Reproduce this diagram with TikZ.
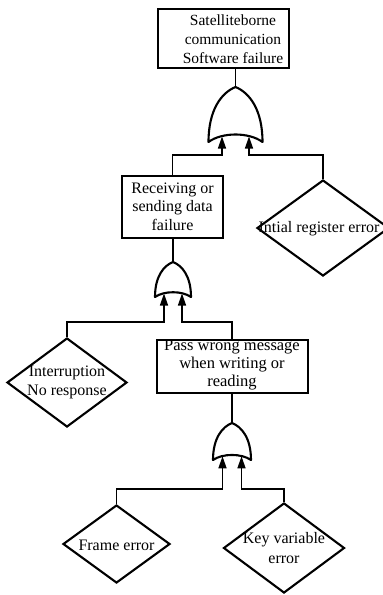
\documentclass[tikz,border=0pt]{standalone}
\usepackage{fontspec}
\setmainfont{Liberation Serif}
\usetikzlibrary{shapes.geometric,arrows.meta,calc}

\tikzset{
  evbox/.style={draw, line width=2.1pt, rectangle, inner sep=0pt},
  basic/.style={draw, line width=2.1pt, diamond, inner sep=0pt},
  caption/.style={align=center, inner sep=0pt, font=\rmfamily\fontsize{16}{19}\selectfont},
  conn/.style={line width=1.4pt},
  feed/.style={conn, -{Triangle[length=12pt,width=8pt]}},
  gateline/.style={line width=2.1pt, line join=round},
}

% OR gate pointing up: name, centre x, apex y, half width, height, input bus y
\newcommand\OrGate[6]{%
  \pgfmathsetmacro\gL{#2-#4}\pgfmathsetmacro\gR{#2+#4}%
  \pgfmathsetmacro\gB{#3+#5}%
  \pgfmathsetmacro\gD{#3+#5-0.182*#5}%
  \pgfmathsetmacro\gM{#3+0.4*#5}%
  \pgfmathsetmacro\gT{#3+0.1*#5}%
  \pgfmathsetmacro\gl{#2-0.5*#4}\pgfmathsetmacro\gr{#2+0.5*#4}%
  \pgfmathsetmacro\gI{#3+#5-0.1*#5}%
  \draw[gateline, fill=white] (\gL,\gB) .. controls (\gL,\gM) and (\gl,\gT) .. (#2,#3)
     .. controls (\gr,\gT) and (\gR,\gM) .. (\gR,\gB)
     .. controls (\gr,\gD) and (\gl,\gD) .. cycle;
  \coordinate (#1-top) at (#2,#3);
  \coordinate (#1-in1) at (\gl,\gI);
  \coordinate (#1-in2) at (\gr,\gI);
  \coordinate (#1-bus1) at (\gl,#6);
  \coordinate (#1-bus2) at (\gr,#6);
}

\begin{document}
\begin{tikzpicture}[x=1pt, y=-1pt]
  \useasboundingbox (0,0) rectangle (383,595);

  % events
  \node[evbox, minimum width=131pt, minimum height=59pt] (top) at (223.5,38.5) {};
  \node[evbox, minimum width=101pt, minimum height=62pt] (rsd) at (172.5,207) {};
  \node[evbox, minimum width=151pt, minimum height=53pt] (pwm) at (232.5,366.5) {};

  % basic events
  \node[basic, minimum width=132pt, minimum height=96pt] (reg) at (323,228) {};
  \node[basic, minimum width=120pt, minimum height=89pt] (irq) at (67,382.5) {};
  \node[basic, minimum width=107pt, minimum height=78pt] (frm) at (116.5,544) {};
  \node[basic, minimum width=121pt, minimum height=90pt] (key) at (284,548) {};

  % gates
  \OrGate{g1}{235.5}{87}{27}{55}{155}
  \OrGate{g2}{173}{262}{18}{35}{322}
  \OrGate{g3}{232}{423}{19}{37}{489}

  % connectors
  \draw[conn] (g1-top |- top.south) -- (g1-top);
  \draw[feed] (rsd.north) |- (g1-bus1) -- (g1-in1);
  \draw[feed] (reg.north) |- (g1-bus2) -- (g1-in2);

  \draw[conn] (g2-top |- rsd.south) -- (g2-top);
  \draw[feed] (irq.north) |- (g2-bus1) -- (g2-in1);
  \draw[feed] (g3-top |- pwm.north) |- (g2-bus2) -- (g2-in2);

  \draw[conn] (g3-top |- pwm.south) -- (g3-top);
  \draw[feed] (frm.north) |- (g3-bus1) -- (g3-in1);
  \draw[feed] (key.north) |- (g3-bus2) -- (g3-in2);

  % texts
  \node[caption, font=\rmfamily\fontsize{15.5}{19}\selectfont] (topt) at (233,39) {Satelliteborne\\communication\\Software failure};
  \node[caption, font=\rmfamily\fontsize{16}{18.5}\selectfont] (rsdt) at (172.5,206.5) {Receiving or\\sending data\\failure};
  \node[caption, font=\rmfamily\fontsize{16.5}{18}\selectfont] (pwmt) at (232,365) {Pass wrong message\\when writing or\\reading};
  \node[caption] (regt) at (319,229) {Intial register error};
  \node[caption] (irqt) at (67,382.5) {Interruption\\No response};
  \node[caption] (frmt) at (116.5,545) {Frame error};
  \node[caption, font=\rmfamily\fontsize{16}{20}\selectfont] (keyt) at (284,548) {Key variable\\error};
\end{tikzpicture}
\end{document}
